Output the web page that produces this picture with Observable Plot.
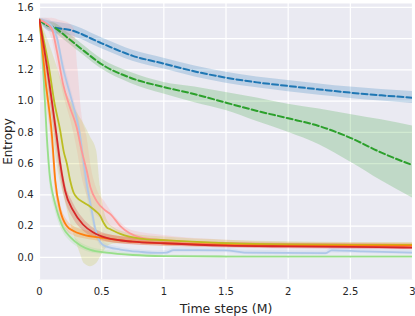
<!DOCTYPE html>
<html><head><meta charset="utf-8">
<script src="https://cdn.jsdelivr.net/npm/d3@7"></script>
<script src="https://cdn.jsdelivr.net/npm/@observablehq/plot@0.6"></script>
<style>
html,body{margin:0;padding:0;background:#fff;}
svg{display:block;}
</style>
</head><body><div id="chart"></div>
<script>
// ---- tick labels ----
const xTicks = [0, 0.5, 1, 1.5, 2, 2.5, 3];
const xTickLabels = ["0", "0.5", "1", "1.5", "2", "2.5", "3"];
const yTicks = [0, 0.2, 0.4, 0.6, 0.8, 1.0, 1.2, 1.4, 1.6];
const yTickLabels = ["0.0", "0.2", "0.4", "0.6", "0.8", "1.0", "1.2", "1.4", "1.6"];

// ---- blue dashed ----
const blX  = [0, 0.05, 0.1, 0.25, 0.5, 0.75, 1.0, 1.25, 1.5, 1.75, 2.0, 2.25, 2.5, 2.75, 3.0];
const blY  = [1.52, 1.49, 1.475, 1.455, 1.37, 1.29, 1.24, 1.19, 1.15, 1.12, 1.097, 1.075, 1.054, 1.037, 1.022];
const blLo = [1.51, 1.46, 1.44, 1.42, 1.335, 1.255, 1.205, 1.155, 1.115, 1.085, 1.06, 1.037, 1.017, 1.0, 0.985];
const blHi = [1.53, 1.52, 1.51, 1.49, 1.405, 1.325, 1.275, 1.225, 1.185, 1.155, 1.132, 1.11, 1.09, 1.075, 1.062];

// ---- green dashed ----
const gnX  = [0, 0.05, 0.12, 0.225, 0.36, 0.5, 0.73, 1.0, 1.25, 1.5, 1.75, 2.0, 2.25, 2.5, 2.75, 3.0];
const gnY  = [1.52, 1.49, 1.47, 1.406, 1.32, 1.236, 1.15, 1.09, 1.044, 0.99, 0.937, 0.89, 0.84, 0.765, 0.67, 0.59];
const gnLo = [1.51, 1.47, 1.44, 1.375, 1.29, 1.205, 1.115, 1.045, 0.99, 0.94, 0.87, 0.80, 0.72, 0.61, 0.49, 0.38];
const gnHi = [1.53, 1.51, 1.50, 1.44, 1.355, 1.27, 1.185, 1.12, 1.09, 1.055, 1.02, 0.98, 0.95, 0.915, 0.88, 0.84];

// ---- light green ----
const lgX  = [0, 0.03, 0.06, 0.086, 0.1, 0.12, 0.14, 0.19, 0.25, 0.33, 0.41, 0.54, 0.75, 1.0, 1.5, 2.0, 2.5, 3.0];
const lgY  = [1.52, 1.2, 0.76, 0.50, 0.43, 0.36, 0.30, 0.19, 0.128, 0.075, 0.047, 0.03, 0.015, 0.008, 0.005, 0.004, 0.004, 0.004];
const lgLo = [1.51, 1.15, 0.70, 0.45, 0.38, 0.32, 0.26, 0.16, 0.10, 0.055, 0.03, 0.018, 0.008, 0.003, 0.001, 0.0, 0.0, 0.0];
const lgHi = [1.53, 1.25, 0.82, 0.55, 0.48, 0.40, 0.34, 0.22, 0.155, 0.095, 0.065, 0.045, 0.025, 0.015, 0.01, 0.008, 0.008, 0.008];

// ---- orange ----
const orX  = [0, 0.05, 0.1, 0.127, 0.167, 0.22, 0.27, 0.35, 0.51, 0.75, 1.0, 1.5, 2.0, 2.5, 3.0];
const orY  = [1.52, 1.12, 0.78, 0.49, 0.30, 0.20, 0.17, 0.145, 0.124, 0.10, 0.09, 0.08, 0.075, 0.075, 0.075];
const orLo = [1.51, 1.06, 0.70, 0.43, 0.26, 0.17, 0.14, 0.12, 0.10, 0.08, 0.07, 0.065, 0.06, 0.06, 0.06];
const orHi = [1.53, 1.18, 0.86, 0.56, 0.35, 0.24, 0.20, 0.175, 0.15, 0.125, 0.11, 0.095, 0.09, 0.09, 0.09];

// ---- red ----
const rdX  = [0, 0.06, 0.137, 0.167, 0.206, 0.27, 0.35, 0.43, 0.54, 0.75, 1.0, 1.5, 2.0, 2.5, 3.0];
const rdY  = [1.52, 1.22, 0.78, 0.60, 0.426, 0.30, 0.21, 0.16, 0.124, 0.10, 0.09, 0.075, 0.07, 0.067, 0.062];
const rdLo = [1.51, 1.16, 0.70, 0.53, 0.37, 0.25, 0.17, 0.13, 0.10, 0.08, 0.072, 0.06, 0.055, 0.052, 0.048];
const rdHi = [1.53, 1.28, 0.86, 0.67, 0.48, 0.35, 0.25, 0.19, 0.15, 0.125, 0.11, 0.095, 0.088, 0.085, 0.08];

// ---- olive ----
const olX  = [0, 0.075, 0.12, 0.167, 0.194, 0.22, 0.247, 0.274, 0.30, 0.355, 0.408, 0.448, 0.488, 0.514, 0.54, 0.57, 0.65, 0.81, 1.0, 1.5, 2.0, 2.5, 3.0];
const olY  = [1.52, 1.22, 0.99, 0.81, 0.68, 0.60, 0.49, 0.415, 0.383, 0.351, 0.324, 0.298, 0.266, 0.224, 0.192, 0.18, 0.15, 0.12, 0.11, 0.09, 0.082, 0.08, 0.08];
const olBandX = [0, 0.1, 0.15, 0.2, 0.25, 0.3, 0.33, 0.36, 0.41, 0.46, 0.49, 0.52, 0.55, 0.6, 0.75, 1.0, 1.5, 2.0, 2.5, 3.0];
const olLo = [1.51, 0.85, 0.55, 0.38, 0.22, 0.085, 0.02, -0.04, -0.06, -0.04, 0.0, 0.04, 0.07, 0.085, 0.09, 0.085, 0.07, 0.065, 0.065, 0.065];
const olHi = [1.53, 1.32, 1.2, 1.08, 1.0, 0.93, 0.89, 0.85, 0.77, 0.68, 0.45, 0.3, 0.23, 0.19, 0.15, 0.13, 0.11, 0.10, 0.095, 0.095];

// ---- pink ----
const pkX  = [0, 0.05, 0.1, 0.14, 0.19, 0.246, 0.3, 0.34, 0.38, 0.41, 0.46, 0.53, 0.57, 0.65, 0.81, 1.0, 1.25, 1.5, 2.0, 2.5, 3.0];
const pkY  = [1.52, 1.50, 1.46, 1.32, 1.108, 0.958, 0.83, 0.68, 0.554, 0.447, 0.36, 0.30, 0.277, 0.20, 0.128, 0.11, 0.095, 0.085, 0.075, 0.072, 0.07];
const pkBandX = [0, 0.1, 0.15, 0.2, 0.25, 0.28, 0.31, 0.34, 0.38, 0.42, 0.46, 0.53, 0.6, 0.75, 1.0, 1.5, 2.0, 2.5, 3.0];
const pkLo = [1.51, 1.40, 1.20, 1.02, 0.88, 0.78, 0.66, 0.52, 0.40, 0.32, 0.27, 0.23, 0.18, 0.11, 0.085, 0.065, 0.058, 0.055, 0.052];
const pkHi = [1.53, 1.53, 1.52, 1.51, 1.49, 1.46, 1.2, 0.92, 0.78, 0.56, 0.44, 0.35, 0.27, 0.17, 0.14, 0.11, 0.095, 0.09, 0.088];

// ---- light blue ----
const lbX  = [0, 0.05, 0.1, 0.14, 0.19, 0.246, 0.29, 0.32, 0.35, 0.38, 0.42, 0.446, 0.47, 0.52, 0.65, 0.81, 0.95, 1.02, 1.08, 1.5, 1.65, 2.3, 2.35, 2.6, 3.0];
const lbY  = [1.52, 1.51, 1.48, 1.406, 1.21, 1.044, 0.916, 0.81, 0.64, 0.47, 0.30, 0.19, 0.128, 0.075, 0.05, 0.035, 0.028, 0.03, 0.046, 0.045, 0.03, 0.027, 0.045, 0.038, 0.03];
const lbLo = [1.51, 1.49, 1.45, 1.36, 1.15, 0.99, 0.86, 0.74, 0.57, 0.40, 0.25, 0.15, 0.10, 0.055, 0.035, 0.022, 0.015, 0.017, 0.03, 0.03, 0.018, 0.014, 0.028, 0.024, 0.018];
const lbHi = [1.53, 1.53, 1.51, 1.45, 1.27, 1.10, 0.97, 0.88, 0.71, 0.54, 0.36, 0.24, 0.16, 0.095, 0.065, 0.048, 0.04, 0.043, 0.062, 0.06, 0.045, 0.04, 0.062, 0.052, 0.043];

// ---- colours ----
const cBlue = "#1f77b4", cGreen = "#2ca02c", cLGreen = "#98df8a", cOrange = "#ff7f0e",
      cRed = "#d62728", cOlive = "#bcbd22", cPink = "#ff9896", cLBlue = "#aec7e8";

const line = (xs, ys) => xs.map((x, i) => ({x, y: ys[i]}));
const band = (xs, lo, hi) => xs.map((x, i) => ({x, lo: lo[i], hi: hi[i]}));

const curve = "monotone-x";
const bandMark = (d, c, op = 0.22) => Plot.areaY(d, {x: "x", y1: "lo", y2: "hi", fill: c, fillOpacity: op, curve, clip: true});
const lineMark = (d, c, extra = {}) => Plot.line(d, {x: "x", y: "y", stroke: c, strokeWidth: 1.8, curve, clip: true, ...extra});

const xLab = new Map(xTicks.map((t, i) => [t, xTickLabels[i]]));
const yLab = new Map(yTicks.map((t, i) => [t, yTickLabels[i]]));

const chart = Plot.plot({
  width: 415, height: 316,
  marginLeft: 39, marginRight: 3, marginTop: 3, marginBottom: 37,
  style: {fontFamily: "'DejaVu Sans', sans-serif", fontSize: "10px", color: "#262626", background: "#fff"},
  x: {domain: [0, 3]},
  y: {domain: [-0.142, 1.625]},
  marks: [
    Plot.frame({fill: "#EAEAF2", stroke: null}),
    Plot.gridX(xTicks, {stroke: "#fff", strokeOpacity: 1, strokeWidth: 1.2}),
    Plot.gridY(yTicks, {stroke: "#fff", strokeOpacity: 1, strokeWidth: 1.2}),
    Plot.axisX(xTicks, {tickSize: 0, tickPadding: 8, tickFormat: d => xLab.get(d), label: null, fill: "#262626"}),
    Plot.axisY(yTicks, {tickSize: 0, tickPadding: 6, tickFormat: d => yLab.get(d), label: null, fill: "#262626"}),
    Plot.text(["Time steps (M)"], {frameAnchor: "bottom", text: d => d, dy: 33, fontSize: 12.5, fill: "#262626"}),
    Plot.text(["Entropy"], {frameAnchor: "left", text: d => d, dx: -31, rotate: -90, textAnchor: "middle", lineAnchor: "middle", fontSize: 12, fill: "#262626"}),

    bandMark(band(blX, blLo, blHi), cBlue),
    bandMark(band(gnX, gnLo, gnHi), cGreen),
    bandMark(band(lbX, lbLo, lbHi), cLBlue),
    bandMark(band(pkBandX, pkLo, pkHi), cPink, 0.2),
    bandMark(band(olBandX, olLo, olHi), cOlive, 0.2),
    bandMark(band(lgX, lgLo, lgHi), cLGreen),
    bandMark(band(orX, orLo, orHi), cOrange),
    bandMark(band(rdX, rdLo, rdHi), cRed),

    lineMark(line(blX, blY), cBlue, {strokeDasharray: "6,3", strokeWidth: 2}),
    lineMark(line(gnX, gnY), cGreen, {strokeDasharray: "6,3", strokeWidth: 2}),
    lineMark(line(lbX, lbY), cLBlue),
    lineMark(line(pkX, pkY), cPink),
    lineMark(line(olX, olY), cOlive),
    lineMark(line(lgX, lgY), cLGreen),
    lineMark(line(orX, orY), cOrange),
    lineMark(line(rdX, rdY), cRed)
  ]
});
document.getElementById("chart").appendChild(chart);
</script>
</body></html>
